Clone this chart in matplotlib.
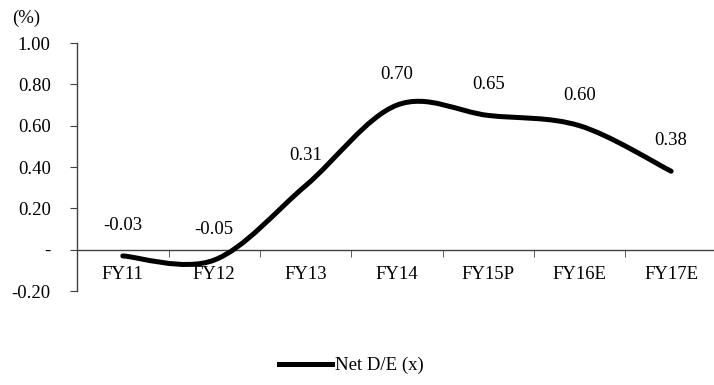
import matplotlib
matplotlib.use('Agg')
import matplotlib.pyplot as plt
from matplotlib.path import Path
from matplotlib.patches import PathPatch
from matplotlib.lines import Line2D
import numpy as np

# Data
years = ['FY11', 'FY12', 'FY13', 'FY14', 'FY15P', 'FY16E', 'FY17E']
net_de = [-0.03, -0.05, 0.31, 0.70, 0.65, 0.60, 0.38]
yticks = [-0.2, 0.0, 0.2, 0.4, 0.6, 0.8, 1.0]
ytick_labels = ['-0.20', '-', '0.20', '0.40', '0.60', '0.80', '1.00']

plt.rcParams['font.family'] = ['Liberation Serif', 'DejaVu Serif']

fig = plt.figure(figsize=(7.14, 3.85), dpi=100)
ax = fig.add_axes([0.108, 0.244, 0.896, 0.644])

# Smoothed line (Catmull-Rom style bezier like Excel's smooth line)
x = np.arange(len(net_de), dtype=float)
y = np.array(net_de)
px = np.concatenate([[x[0]], x, [x[-1]]])
py = np.concatenate([[y[0]], y, [y[-1]]])
verts = [(x[0], y[0])]
codes = [Path.MOVETO]
for i in range(1, len(px) - 2):
    c1 = (px[i] + (px[i + 1] - px[i - 1]) / 6, py[i] + (py[i + 1] - py[i - 1]) / 6)
    c2 = (px[i + 1] - (px[i + 2] - px[i]) / 6, py[i + 1] - (py[i + 2] - py[i]) / 6)
    verts += [c1, c2, (px[i + 1], py[i + 1])]
    codes += [Path.CURVE4] * 3
ax.add_patch(PathPatch(Path(verts, codes), facecolor='none', edgecolor='black',
                       lw=3.6, capstyle='round', joinstyle='round', zorder=3))

# Data labels
for xi, v in zip(x, net_de):
    ax.annotate(f'{v:.2f}', (xi, v), xytext=(0, 22), textcoords='offset points',
                ha='center', va='center', fontsize=13.5)

ax.set_xlim(-0.5, 6.5)
ax.set_ylim(-0.2, 1.0)

# Axes styling
for s in ['top', 'right']:
    ax.spines[s].set_visible(False)
ax.spines['bottom'].set_position(('data', 0))
ax.spines['bottom'].set_color('#404040')
ax.spines['left'].set_color('#404040')
ax.spines['bottom'].set_linewidth(1.0)
ax.spines['left'].set_linewidth(1.0)

ax.set_yticks(yticks)
ax.set_yticklabels(ytick_labels, fontsize=13.5)
ax.tick_params(axis='y', direction='out', length=5, color='#404040', pad=14)

ax.set_xticks(x)
ax.set_xticklabels(years, fontsize=13.5)
ax.set_xticks(np.arange(0.5, 6.5, 1.0), minor=True)
ax.tick_params(axis='x', which='major', length=0, pad=12)
ax.tick_params(axis='x', which='minor', direction='out', length=5, color='#404040')

fig.text(0.017, 0.953, '(%)', fontsize=13.5, ha='left', va='center')

handle = Line2D([], [], color='black', lw=3.6)
fig.legend([handle], ['Net D/E (x)'], loc='center', bbox_to_anchor=(0.492, 0.05),
           frameon=False, fontsize=13.5, handlelength=2.8, handletextpad=0.15)

fig.savefig('out.png', dpi=100)
